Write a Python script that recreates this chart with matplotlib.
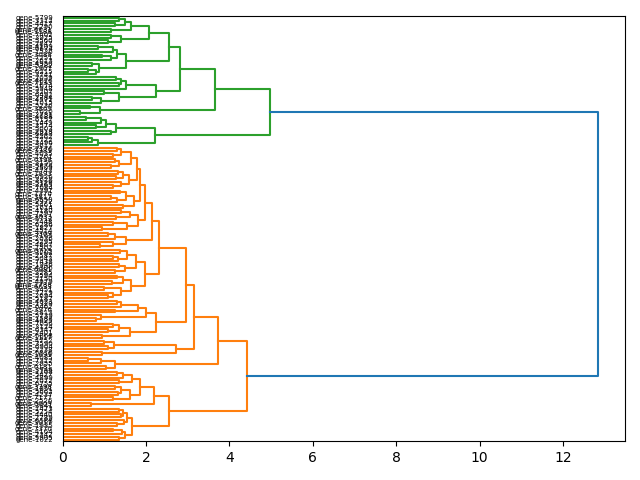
import matplotlib
matplotlib.use('Agg')
import matplotlib.pyplot as plt

L = 0  # a leaf

# ---- tree: node = [merge height, upper child, lower child]
green_tree = [4.97,
    [3.65,
        [2.81,
            [2.54,
                [2.06, [1.65, [1.49, [1.35, L, L], [1.25, L, L]], [1.17, L, L]],
                       [1.41, [1.15, L, L], [1.10, L, L]]],
                [1.51, [1.30, [1.21, [0.85, L, L], L], [1.15, [0.95, L, L], L]],
                       [0.87, [0.70, L, L], [0.80, [0.60, L, L], L]]]],
            [2.25, [1.53, [1.41, [1.29, L, L], [1.35, L, L]], L],
                   [1.35, [1.00, L, L], [0.93, [0.70, L, L], L]]]],
        [0.89, [0.65, L, L], [0.41, L, L]]],
    [2.21,
        [1.27, [1.05, [0.93, [0.55, L, L], L], [0.80, L, L]], [1.17, L, L]],
        [0.85, [0.70, [0.62, L, L], L], L]]]

orange_tree = [4.41,
    [3.73,
        [3.14,
            [2.95,
                [2.30,
                    [2.14,
                        [1.97,
                            [1.85,
                                [1.78,
                                    [1.63, [1.41, [1.31, L, L], [1.20, L, L]],
                                           [1.35, [1.25, L, L], [1.15, L, L]]],
                                    [1.60, [1.45, [1.33, L, L], [1.28, L, L]],
                                           [1.40, L, [1.20, L, L]]]],
                                [1.70, [1.52, [1.38, L, L], [1.30, [1.15, L, L], L]],
                                       [1.45, L, L]]],
                            [1.80, [1.62, [1.40, L, L], [1.28, L, L]],
                                   [1.55, [1.20, L, L], [0.95, L, L]]]],
                        [1.53, [1.25, [1.10, L, L], L], [1.20, L, [0.90, L, L]]]],
                    [1.98,
                        [1.75, [1.55, [1.38, L, L], [1.32, [1.20, L, L], L]],
                               [1.50, [1.35, L, L], [1.25, L, L]]],
                        [1.65, [1.45, [1.30, L, L], [1.18, L, L]],
                               [1.40, [1.00, L, L], [1.22, L, [1.10, L, L]]]]]],
                [2.25,
                    [1.99, [1.81, [1.41, [1.31, L, L], L], [1.25, L, L]],
                           [0.93, L, [0.80, L, L]]],
                    [1.61, [1.35, [1.20, L, L], [1.10, L, L]], [0.95, L, L]]]],
            [2.73, [1.23, [1.00, L, L], [1.10, L, L]], [0.95, L, L]]],
        [1.25, [0.93, [0.60, L, L], L], [1.05, L, L]]],
    [2.54,
        [2.19,
            [1.85, [1.66, [1.45, [1.30, L, L], L], [1.35, L, L]],
                   [1.62, [1.40, [1.25, L, L], [1.33, L, L]], [1.20, L, L]]],
            [0.67, L, L]],
        [1.66, [1.55, [1.45, [1.35, L, L], [1.40, L, L]], [1.48, L, [1.30, L, L]]],
               [1.50, [1.42, [1.20, L, L], L], [1.35, L, L]]]]]

root_height = 12.84

leaf_ids = [5799, 3312, 4417, 2290, 6031, 1188, 7402, 3925, 5560, 2847,
            4109, 6674, 1536, 3088, 7251, 2613, 4950, 5382, 1907, 6215,
            3741, 2059, 4826, 7133, 1674, 5948, 3207, 6492, 2384, 4571,
            1015, 5236, 3869, 7020, 2731, 4688, 6157, 1449, 3574, 5003,
            2918, 6843, 4262, 1722, 3496, 5617, 2176, 7389, 4035, 1261,
            6398, 3150, 5874, 2509, 4743, 1893, 6926, 3628, 5129, 2265,
            7084, 4391, 1370, 3817, 6550, 2972, 5461, 1614, 4180, 7297,
            3033, 5712, 2448, 6286, 1827, 4514, 3369, 7165, 2036, 5295,
            4867, 1502, 6719, 3702, 2587, 5043, 7438, 1946, 4306, 6081,
            3285, 5594, 2150, 4979, 1788, 6633, 3451, 7219, 2694, 5187,
            4023, 1329, 6462, 3976, 2813, 5739, 1583, 4625, 7056, 3124,
            6347, 2401, 5868, 1117, 4752, 3590, 6904, 2238, 5316, 1699,
            4085, 7312, 2955, 6181, 3744, 1268, 5427, 4899, 2072, 6755,
            3398, 1851, 5662, 4237, 7177, 2526, 6009, 3841, 1473, 5254,
            4440, 2789, 6588, 3017, 1935, 7370, 4164, 2342, 5905, 1022]

n = len(leaf_ids)
labels = ['gene-%d' % k for k in leaf_ids]

fig, ax = plt.subplots(figsize=(6.4, 4.8), dpi=100)
counter = [0]


def walk(node, color):
    if node == L:
        i = counter[0]
        counter[0] += 1
        return (n - 1 - i) * 10 + 5, 0.0
    h, a, b = node
    ya, ha = walk(a, color)
    yb, hb = walk(b, color)
    ax.plot([ha, h, h, hb], [ya, ya, yb, yb], color=color, lw=1.5)
    return (ya + yb) / 2.0, h


yg, hg = walk(green_tree, 'C2')
yo, ho = walk(orange_tree, 'C1')
ax.plot([hg, root_height, root_height, ho], [yg, yg, yo, yo], color='C0', lw=1.5)

ax.set_xlim(0, root_height * 1.05)
ax.set_ylim(0, 10 * n)
ax.set_yticks([(n - 1 - i) * 10 + 5 for i in range(n)])
ax.set_yticklabels(labels, fontsize=5)
for t in ax.get_yticklines():
    t.set_visible(False)
for side in ['top', 'right', 'left', 'bottom']:
    ax.spines[side].set_visible(True)
fig.tight_layout()
fig.savefig('out.png', dpi=100)
